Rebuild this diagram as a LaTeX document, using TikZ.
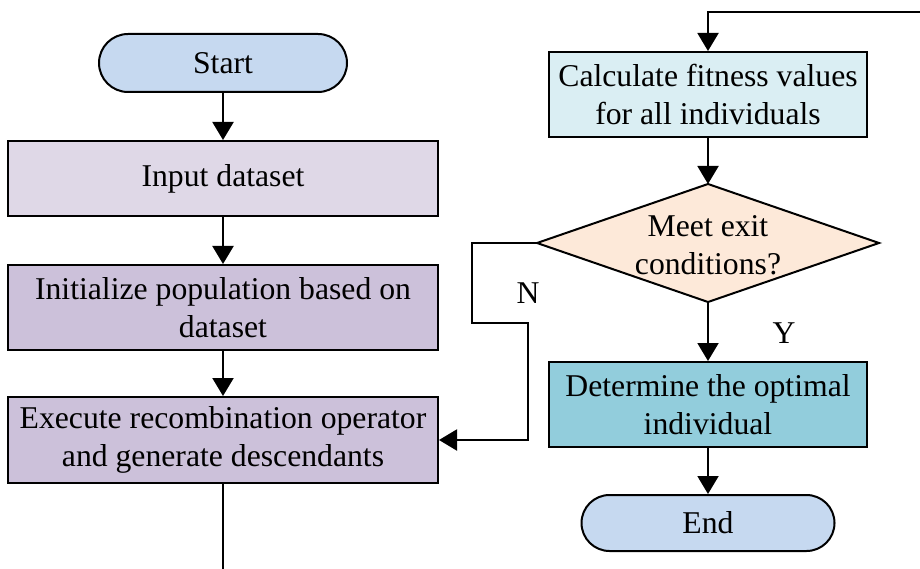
\documentclass[tikz,border=0pt]{standalone}
\usepackage{fontspec}
\setmainfont{Liberation Serif}
\usetikzlibrary{arrows.meta}
\definecolor{cterm}{HTML}{C6D9F0}
\definecolor{cinput}{HTML}{DFD8E7}
\definecolor{cproc}{HTML}{CCC1DA}
\definecolor{ccalc}{HTML}{DAEEF3}
\definecolor{cdec}{HTML}{FDE9D9}
\definecolor{cdet}{HTML}{92CDDC}
\begin{document}
\begin{tikzpicture}[x=1pt,y=-1pt,
  every node/.style={font=\fontsize{31.7}{37.5}\selectfont, align=center, inner sep=0pt},
  box/.style={draw, line width=2pt, rectangle},
  term/.style={draw, line width=2pt, rectangle, rounded corners=29pt, fill=cterm},
  link/.style={line width=2pt, -{Triangle[length=18pt,width=21pt]}},
  plain/.style={line width=2pt}]
\useasboundingbox (0,0) rectangle (920,569);
% left column
\node[term, minimum width=248pt, minimum height=58pt] (start) at (223,63) {Start};
\node[box, fill=cinput, minimum width=430pt, minimum height=75pt] (input) at (223,178.5) {Input dataset};
\node[box, fill=cproc, minimum width=430pt, minimum height=85pt] (init) at (223,307.5) {Initialize population based on\\dataset};
\node[box, fill=cproc, minimum width=430pt, minimum height=86pt] (exe) at (223,440) {Execute recombination operator\\and generate descendants};
% right column
\node[box, fill=ccalc, minimum width=318pt, minimum height=85pt] (calc) at (708,94.5) {Calculate fitness values\\for all individuals};
\draw[line width=2pt, fill=cdec] (708,184) coordinate (dtop) -- (879,243) coordinate (dright) -- (708,302) coordinate (dbot) -- (537,243) coordinate (dleft) -- cycle;
\node (dec) at (708,245) {Meet exit\\conditions?};
\node[box, fill=cdet, minimum width=318pt, minimum height=85pt] (det) at (708,404.5) {Determine the optimal\\individual};
\node[term, minimum width=253pt, minimum height=56pt, rounded corners=28pt] (end) at (708,523) {End};
% labels
\node (nlab) at (528,293) {N};
\node (ylab) at (784,333) {Y};
% free ends
\coordinate (bot) at (223,569);
\coordinate (topr) at (920,12);
\coordinate (n1) at (472,243);
\coordinate (n2) at (472,323);
\coordinate (n3) at (528,323);
\coordinate (n4) at (528,440);
% connectors
\draw[link] (start.south) -- (input.north);
\draw[link] (input.south) -- (init.north);
\draw[link] (init.south) -- (exe.north);
\draw[plain] (exe.south) -- (bot);
\draw[link] (topr) -| (calc.north);
\draw[link] (calc.south) -- (dtop);
\draw[link] (dbot) -- (det.north);
\draw[link] (det.south) -- (end.north);
\draw[link] (dleft) -- (n1) -- (n2) -- (n3) -- (n4) -- (exe.east);
\end{tikzpicture}
\end{document}
